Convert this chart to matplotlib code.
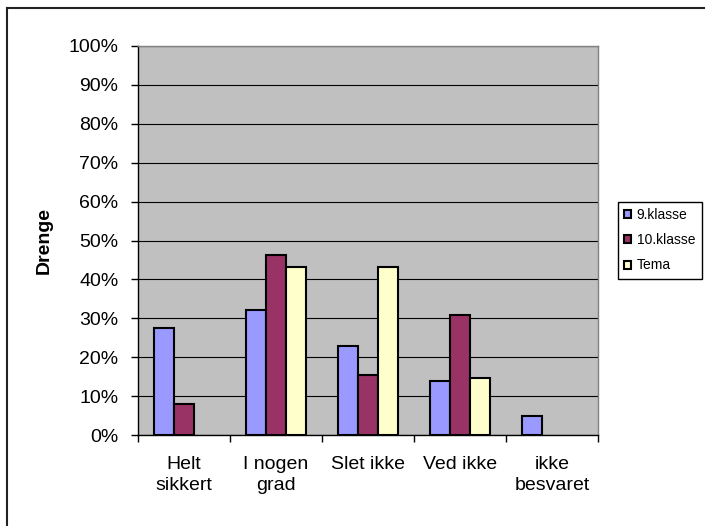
import matplotlib.pyplot as plt
import numpy as np
from matplotlib.lines import Line2D
from matplotlib.ticker import FixedLocator, PercentFormatter

plt.rcParams['font.family'] = ['Liberation Sans', 'DejaVu Sans']

# Data (andel i procent), None = ingen svar / ingen søjle
kategorier = ['Helt\nsikkert', 'I nogen\ngrad', 'Slet ikke', 'Ved ikke', 'ikke\nbesvaret']
serier = ['9.klasse', '10.klasse', 'Tema']
klasse9 = [27.5, 32.1, 22.9, 13.9, 4.9]
klasse10 = [8.0, 46.3, 15.4, 30.8, None]
tema = [None, 43.2, 43.2, 14.7, None]
farver = ['#9999FF', '#993366', '#FFFFCC']

W, H = 705, 526
fig = plt.figure(figsize=(W / 100, H / 100), dpi=100)
ax = fig.add_axes([138 / W, (H - 435) / H, 460 / W, 389 / H])
ax.set_facecolor('#C0C0C0')

x = np.arange(len(kategorier))
bredde = 0.22
for i, (vals, navn, farve) in enumerate(zip([klasse9, klasse10, tema], serier, farver)):
    idx = [j for j, v in enumerate(vals) if v is not None]
    ax.bar(x[idx] + (i - 1) * bredde, [vals[j] for j in idx], bredde, color=farve,
           edgecolor='black', linewidth=1.5, label=navn, zorder=3)

ax.set_xlim(-0.5, len(kategorier) - 0.5)
ax.set_ylim(0, 100)
ax.set_yticks(np.arange(0, 101, 10))
ax.yaxis.set_major_formatter(PercentFormatter(decimals=0))
ax.grid(axis='y', color='black', linewidth=0.8, zorder=1)

ax.set_xticks(x)
ax.set_xticklabels(kategorier, fontsize=14, linespacing=1.35)
ax.tick_params(axis='x', which='major', length=0, pad=15)
ax.xaxis.set_minor_locator(FixedLocator(np.arange(-0.5, len(kategorier), 1.0)))
ax.tick_params(axis='x', which='minor', length=5, width=1, direction='out')
ax.tick_params(axis='y', length=5, width=1, direction='out', pad=9, labelsize=14)

ax.set_ylabel('Drenge', fontsize=14, fontweight='bold')
ax.yaxis.set_label_coords(-0.185, 0.5)

for side in ['left', 'bottom']:
    ax.spines[side].set_color('black')
    ax.spines[side].set_linewidth(1)
for side in ['top', 'right']:
    ax.spines[side].set_color('#808080')
    ax.spines[side].set_linewidth(1)

leg = fig.legend(loc='upper left', bbox_to_anchor=(618 / W, 1 - 202 / H),
                 fontsize=10, frameon=True, fancybox=False, framealpha=1,
                 edgecolor='black', handlelength=0.5, handleheight=0.5,
                 handletextpad=0.4, labelspacing=0.8, borderpad=0.45,
                 borderaxespad=0)
leg.get_frame().set_linewidth(1)

# ramme om figuren (kun venstre og top er synlige)
fig.add_artist(Line2D([7 / W, 7 / W], [0, 1 - 8 / H], color='#222222', linewidth=1.5))
fig.add_artist(Line2D([7 / W, 1], [1 - 8 / H, 1 - 8 / H], color='#222222', linewidth=1.5))

fig.savefig('out.png', dpi=100)
